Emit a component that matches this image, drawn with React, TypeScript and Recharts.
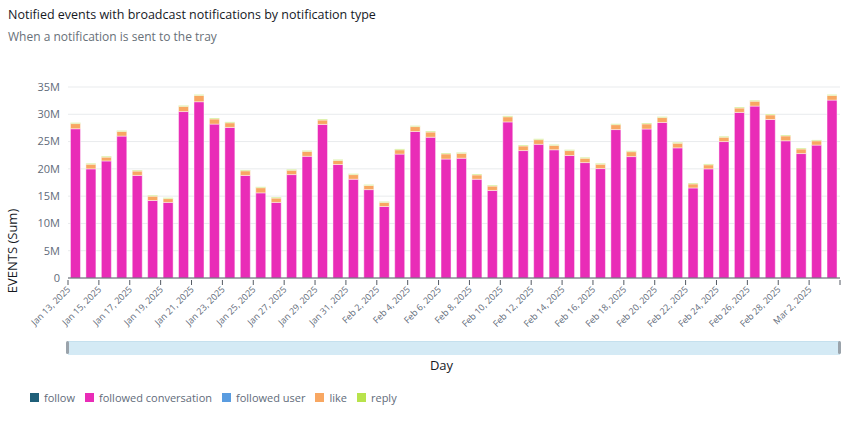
import React from 'react';
import { BarChart, Bar, XAxis, YAxis, CartesianGrid } from 'recharts';

const DAYS = [
  'Jan 13, 2025', 'Jan 14, 2025', 'Jan 15, 2025', 'Jan 16, 2025', 'Jan 17, 2025', 'Jan 18, 2025', 'Jan 19, 2025',
  'Jan 20, 2025', 'Jan 21, 2025', 'Jan 22, 2025', 'Jan 23, 2025', 'Jan 24, 2025', 'Jan 25, 2025', 'Jan 26, 2025',
  'Jan 27, 2025', 'Jan 28, 2025', 'Jan 29, 2025', 'Jan 30, 2025', 'Jan 31, 2025', 'Feb 1, 2025', 'Feb 2, 2025',
  'Feb 3, 2025', 'Feb 4, 2025', 'Feb 5, 2025', 'Feb 6, 2025', 'Feb 7, 2025', 'Feb 8, 2025', 'Feb 9, 2025',
  'Feb 10, 2025', 'Feb 11, 2025', 'Feb 12, 2025', 'Feb 13, 2025', 'Feb 14, 2025', 'Feb 15, 2025', 'Feb 16, 2025',
  'Feb 17, 2025', 'Feb 18, 2025', 'Feb 19, 2025', 'Feb 20, 2025', 'Feb 21, 2025', 'Feb 22, 2025', 'Feb 23, 2025',
  'Feb 24, 2025', 'Feb 25, 2025', 'Feb 26, 2025', 'Feb 27, 2025', 'Feb 28, 2025', 'Mar 1, 2025', 'Mar 2, 2025',
  'Mar 3, 2025',
];

// values in millions of events
const FOLLOW = [
  0, 0, 0, 0, 0, 0, 0, 0, 0, 0, 0, 0, 0, 0, 0, 0, 0, 0, 0, 0, 0, 0, 0, 0, 0,
  0, 0, 0, 0, 0, 0, 0, 0, 0, 0, 0, 0, 0, 0, 0, 0, 0, 0, 0, 0, 0, 0, 0, 0, 0,
];
const FOLLOWED_CONVERSATION = [
  27.35, 20.0, 21.45, 26.0, 18.8, 14.2, 13.85, 30.5, 32.3, 28.2,
  27.6, 18.8, 15.6, 13.85, 18.95, 22.3, 28.15, 20.8, 18.1, 16.2,
  13.1, 22.7, 26.85, 25.8, 21.8, 21.95, 18.1, 16.05, 28.6, 23.35,
  24.5, 23.5, 22.45, 21.15, 20.05, 27.2, 22.25, 27.3, 28.5, 23.85,
  16.5, 20.0, 25.0, 30.35, 31.5, 29.05, 25.15, 22.8, 24.35, 32.6,
];
const FOLLOWED_USER = [
  0, 0, 0, 0, 0, 0, 0, 0, 0, 0, 0, 0, 0, 0, 0, 0, 0, 0, 0, 0, 0, 0, 0, 0, 0,
  0, 0, 0, 0, 0, 0, 0, 0, 0, 0, 0, 0, 0, 0, 0, 0, 0, 0, 0, 0, 0, 0, 0, 0, 0,
];
const LIKE = [
  0.95, 0.85, 0.7, 0.85, 0.8, 0.8, 0.7, 0.95, 1.15, 0.95,
  0.85, 0.85, 0.95, 0.8, 0.8, 0.9, 0.8, 0.75, 0.85, 0.75,
  0.75, 0.8, 0.9, 0.95, 0.95, 0.9, 0.8, 0.8, 0.95, 0.85,
  0.85, 0.8, 0.9, 0.8, 0.8, 0.9, 0.9, 0.95, 0.9, 0.85,
  0.75, 0.75, 0.8, 0.8, 0.9, 0.85, 0.9, 0.85, 0.8, 0.85,
];
const REPLY = [
  0.15, 0.15, 0.15, 0.15, 0.15, 0.15, 0.15, 0.15, 0.15, 0.15,
  0.15, 0.15, 0.15, 0.15, 0.15, 0.15, 0.15, 0.15, 0.15, 0.15,
  0.15, 0.15, 0.15, 0.15, 0.15, 0.15, 0.15, 0.15, 0.15, 0.15,
  0.15, 0.15, 0.15, 0.15, 0.15, 0.15, 0.15, 0.15, 0.15, 0.15,
  0.15, 0.15, 0.15, 0.15, 0.15, 0.15, 0.15, 0.15, 0.15, 0.15,
];
const Y_TICKS = [0, 5, 10, 15, 20, 25, 30, 35];

const SERIES = [
  { key: 'follow', name: 'follow', color: '#1f5f79', values: FOLLOW },
  { key: 'conv', name: 'followed conversation', color: '#e92cb7', values: FOLLOWED_CONVERSATION },
  { key: 'user', name: 'followed user', color: '#5a9ce0', values: FOLLOWED_USER },
  { key: 'like', name: 'like', color: '#f8a762', values: LIKE },
  { key: 'reply', name: 'reply', color: '#b8e34c', values: REPLY },
];

const data = DAYS.map((day, i) => {
  const row: Record<string, any> = { day };
  SERIES.forEach(s => { row[s.key] = s.values[i]; });
  return row;
});

const FONT = '"Open Sans", "Noto Sans", sans-serif';
const W = 843;
const H = 340;
const LEFT = 68;
const RIGHT = 3;
const BAND = (W - LEFT - RIGHT) / DAYS.length;

const XTick = (props: any) => {
  const { x, y, payload } = props;
  const i = DAYS.indexOf(payload.value);
  const left = x - BAND / 2;
  const showLabel = i % 2 === 0;
  const tx = left + 3;
  const ty = y + 10;
  return (
    <g>
      {showLabel && <line x1={left} x2={left} y1={y} y2={y + 5} stroke="#545b64" />}
      {i === DAYS.length - 1 && (
        <line x1={x + BAND / 2} x2={x + BAND / 2} y1={y} y2={y + 5} stroke="#545b64" />
      )}
      {showLabel && (
        <text
          x={tx}
          y={ty}
          transform={`rotate(-45, ${tx}, ${ty})`}
          textAnchor="end"
          fontSize={9}
          fontFamily={FONT}
          fill="#5f6b7a"
        >
          {payload.value}
        </text>
      )}
    </g>
  );
};

export default function App() {
  return (
    <div style={{ position: 'absolute', left: 0, top: 0, width: W, height: 427, background: '#fff', fontFamily: FONT }}>
      <div style={{ position: 'absolute', left: 8, top: 6, fontSize: 12.5, color: '#16191f', whiteSpace: 'nowrap' }}>
        Notified events with broadcast notifications by notification type
      </div>
      <div style={{ position: 'absolute', left: 8, top: 28, fontSize: 12, color: '#687078', whiteSpace: 'nowrap' }}>
        When a notification is sent to the tray
      </div>
      <div style={{ position: 'absolute', left: 0, top: 0 }}>
        <BarChart
          width={W}
          height={H}
          data={data}
          margin={{ top: 87, right: RIGHT, left: 0, bottom: 0 }}
          barCategoryGap="16%"
        >
          <CartesianGrid vertical={false} stroke="#e9ebed" />
          <XAxis
            dataKey="day"
            interval={0}
            height={62}
            tickLine={false}
            tickSize={0}
            tick={<XTick />}
            axisLine={{ stroke: '#545b64' }}
          />
          <YAxis
            width={LEFT}
            domain={[0, 35]}
            ticks={Y_TICKS}
            tickLine={false}
            axisLine={false}
            tickFormatter={(v: number) => (v === 0 ? '0' : `${v}M`)}
            tick={{ fontSize: 11, fill: '#5f6b7a', fontFamily: FONT }}
          />
          {SERIES.map(s => (
            <Bar
              key={s.key}
              dataKey={s.key}
              name={s.name}
              stackId="a"
              fill={s.color}
              stroke="#ffffff"
              strokeOpacity={0.45}
              strokeWidth={1}
              isAnimationActive={false}
            />
          ))}
        </BarChart>
      </div>
      <svg style={{ position: 'absolute', left: 0, top: 0 }} width={40} height={340}>
        <text
          x={0}
          y={0}
          transform="translate(17, 251) rotate(-90)"
          textAnchor="middle"
          fontSize={13}
          fontFamily={FONT}
          fill="#16191f"
        >
          EVENTS (Sum)
        </text>
      </svg>
      <div
        style={{
          position: 'absolute', left: 68, top: 341, width: 772, height: 14,
          background: '#d4eaf5', borderTop: '1px solid #c5e0ee', boxSizing: 'border-box',
        }}
      />
      <div style={{ position: 'absolute', left: 66, top: 341, width: 3, height: 13, background: '#9aa3ab', borderRadius: 2 }} />
      <div style={{ position: 'absolute', left: 838, top: 341, width: 3, height: 13, background: '#9aa3ab', borderRadius: 2 }} />
      <div style={{ position: 'absolute', left: 0, width: W, top: 356, textAlign: 'center', fontSize: 13, color: '#16191f', paddingLeft: 40, boxSizing: 'border-box' }}>
        Day
      </div>
      <div style={{ position: 'absolute', left: 30, top: 390, display: 'flex', alignItems: 'center', fontSize: 11, color: '#5f6b7a' }}>
        {SERIES.map(s => (
          <div key={s.key} style={{ display: 'flex', alignItems: 'center', marginRight: 10 }}>
            <div style={{ width: 9, height: 9, background: s.color, marginRight: 5 }} />
            <span>{s.name}</span>
          </div>
        ))}
      </div>
    </div>
  );
}
